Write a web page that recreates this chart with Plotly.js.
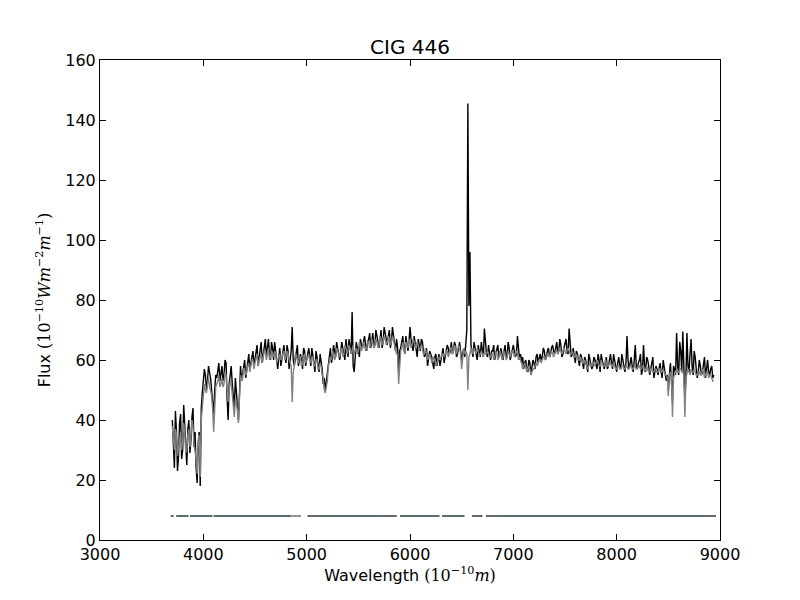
<!DOCTYPE html>
<html>
<head>
<meta charset="utf-8">
<script src="https://cdn.plot.ly/plotly-3.0.1.min.js"></script>
<style>html,body{margin:0;padding:0;background:#fff;}#chart{width:800px;height:600px;}</style>
</head>
<body>
<div id="chart"></div>
<script>
// Wavelength grid (Angstrom), 20 A steps
const wavelength = [
3700,3720,3740,3760,3780,3800,3820,3840,3860,3880,3900,3920,3940,3960,3980,
4000,4020,4040,4060,4080,4100,4120,4140,4160,4180,4200,4220,4240,4260,4280,4300,4320,4340,4360,4380,
4400,4420,4440,4460,4480,4500,4520,4540,4560,4580,4600,4620,4640,4660,4680,4700,4720,4740,4760,4780,
4800,4820,4840,4860,4880,4900,4920,4940,4960,4980,5000,5020,5040,5060,5080,5100,5120,5140,5160,5180,
5200,5220,5240,5260,5280,5300,5320,5340,5360,5380,5400,5420,5440,5460,5480,5500,5520,5540,5560,5580,
5600,5620,5640,5660,5680,5700,5720,5740,5760,5780,5800,5820,5840,5860,5880,5900,5920,5940,5960,5980,
6000,6020,6040,6060,6080,6100,6120,6140,6160,6180,6200,6220,6240,6260,6280,6300,6320,6340,6360,6380,
6400,6420,6440,6460,6480,6500,6520,6540,6560,6580,6600,6620,6640,6660,6680,6700,6720,6740,6760,6780,
6800,6820,6840,6860,6880,6900,6920,6940,6960,6980,7000,7020,7040,7060,7080,7100,7120,7140,7160,7180,
7200,7220,7240,7260,7280,7300,7320,7340,7360,7380,7400,7420,7440,7460,7480,7500,7520,7540,7560,7580,
7600,7620,7640,7660,7680,7700,7720,7740,7760,7780,7800,7820,7840,7860,7880,7900,7920,7940,7960,7980,
8000,8020,8040,8060,8080,8100,8120,8140,8160,8180,8200,8220,8240,8260,8280,8300,8320,8340,8360,8380,
8400,8420,8440,8460,8480,8500,8520,8540,8560,8580,8600,8620,8640,8660,8680,8700,8720,8740,8760,8780,
8800,8820,8840,8860,8880,8900,8920,8940
];

// Observed flux (black) on the grid above
const observedFlux = [
40,24,36,28,42,30,38,25,40,33,44,36,19,36,44,
52,55,53,56,50,42,55,57,53,58,55,59,40,56,52,44,50,40,58,56,
60,57,62,59,63,60,65,61,66,62,67,64,62,66,60,63,57,64,61,65,
59,63,60,71,58,63,58,62,57,63,60,64,58,62,56,61,56,60,52,50,
55,62,59,65,61,64,60,66,62,67,61,65,76,56,66,63,67,64,68,63,
67,64,69,65,68,64,70,66,69,65,70,66,68,63,64,63,66,64,68,63,
71,65,68,64,67,63,66,61,64,60,62,59,61,58,62,60,64,61,65,62,
66,63,65,62,66,60,64,68,145.5,96,63,66,62,65,61,64,70.5,62,65,60,
63,60,64,61,64,60,65,61,64,62,65,61,68,60,59,57,60,56,59,57,
59,61,59,62,61,63,61,64,62,65,62,66,63,65,62,66,63,70.5,61,64,
59,62,58,61,57,60,56,60,57,61,58,62,56,60,57,61,58,62,57,60,
56,61,57,60,56,68,57,61,56,65,57,60,55,65,56,60,55,59,54,58,
55,59,54,58,53,50,59,46,57,69,55,63,69.5,46,69,56,67,55,61,54,
60,55,59,54,60,55,58,55
];
// Observed flux (black) at the in-between wavelengths (grid + 10 A)
const observedFluxMid = [
31,43,23,39,27,45,31,37,29,41,31,24,32,18,49,
57,50,58,54,47,50,54,59,55,53,60,47,52,58,49,54,46,49,53,59,
54,60,57,62,58,62,58,63,59,65,61,67,60,64,66,60,61,58,63,61,
65,57,63,60,61,65,61,60,64,58,63,61,64,59,63,59,62,57,54,53,
59,64,61,62,66,62,63,64,60,64,67,62,58,62,64,61,65,66,65,66,
69,66,64,70,66,67,64,71,67,68,64,71,65,67,56,64,68,62,66,66,
67,63,66,61,65,67,63,62,58,63,61,57,62,60,58,62,59,63,64,63,
62,66,61,64,63,62,61,70,78,65,61,63,60,63,66,61,64,61,62,63,
65,62,65,62,62,63,61,66,60,63,63,62,64,62,61,59,57,60,55,60,
57,62,61,60,64,60,63,61,64,63,64,62,67,61,64,67,62,64,62,61,
63,60,62,59,61,58,62,59,58,60,57,60,62,58,59,57,60,59,62,58,
59,58,62,58,59,60,59,58,60,58,59,62,57,58,61,58,57,61,57,57,
57,56,60,56,55,55,53,58,55,58,66,56,58,54,58,62,58,63,57,56,
58,56,61,57,56,57,54
];

// Synthetic (model) flux (gray) on the grid
const modelFlux = [
38,30,35,31,36,33,36,30,37,34,38,30,22,35,40,
47,50,52,51,48,36,51,53,51,54,52,55,46,53,49,41,46,39,55,54,
57,56,59,58,60,59,62,60,62,61,63,62,60,63,61,62,60,62,61,63,
61,62,59,46,58,61,59,61,59,62,60,62,59,61,58,60,57,58,54,49,
53,60,60,62,61,63,61,64,62,64,63,64,63,62,64,63,65,64,65,64,
66,65,66,65,66,65,67,66,67,66,67,66,67,64,62,60,64,64,66,64,
66,65,66,65,65,64,64,62,62,61,61,60,60,59,61,61,62,62,63,62,
64,63,64,63,64,57,64,63,50,62,63,64,62,63,62,62,63,62,62,61,
62,61,62,61,62,61,62,61,62,62,63,62,62,61,59,58,58,57,57,56,
57,59,59,60,60,61,61,62,62,62,62,63,63,63,63,63,63,63,62,62,
61,61,60,60,59,59,57,59,58,59,59,59,58,59,58,59,58,59,58,58,
57,58,57,58,57,58,57,58,57,58,57,58,57,58,57,57,56,57,56,57,
56,57,56,56,55,48,56,41,55,57,56,57,56,41,56,56,57,56,56,55,
56,55,56,55,56,55,54,53
];
// Synthetic (model) flux (gray) at the in-between wavelengths
const modelFluxMid = [
33,37,28,35,30,39,29,35,31,40,32,27,33,21,44,
52,49,54,50,44,45,52,55,52,51,56,50,50,52,44,47,43,48,53,57,
55,58,56,60,57,61,58,61,59,63,60,64,61,62,63,59,61,60,62,60,
63,60,58,56,62,60,61,58,61,59,61,60,61,58,60,57,59,55,50,51,
58,61,63,60,64,62,63,61,65,62,65,62,65,63,62,66,63,66,63,66,
64,67,64,67,64,68,65,68,65,68,65,68,65,62,52,63,66,62,65,67,
64,67,64,66,63,65,62,64,60,62,59,61,58,60,60,62,61,63,61,64,
62,65,62,65,62,61,62,62,61,64,62,63,64,61,63,61,62,63,61,62,
60,63,60,63,60,63,60,63,61,63,61,63,60,60,57,59,56,58,55,57,
58,58,60,59,61,60,62,61,63,61,63,62,64,62,64,62,64,62,63,61,
62,60,61,59,60,58,58,58,59,58,60,58,60,58,60,58,59,58,59,57,
58,57,58,57,58,57,58,57,58,57,58,57,58,56,58,56,57,56,57,56,
57,56,57,55,54,55,55,54,56,56,57,56,55,54,57,55,56,57,55,56,
55,57,54,56,54,55,53
];
const midOffset = 10; // in-between samples lie 10 A after each grid wavelength

// Mask segments (wavelength start / end) drawn at a constant flux level
const maskStart = [3684,3737,3871,4099,5008,5903,6310,6600,6735];
const maskEnd   = [3712,3857,4089,4848,5872,6286,6528,6702,8961];
const maskLevel = 8;
const mask2Start = [4851];
const mask2End = [4945];

// Merge the grid samples and the in-between samples in wavelength order
function merge(main, mid){
  const x=[], y=[];
  for(let i=0;i<wavelength.length;i++){
    x.push(wavelength[i]); y.push(main[i]);
    if(i < mid.length){ x.push(wavelength[i]+midOffset); y.push(mid[i]); }
  }
  return {x, y};
}
const obs = merge(observedFlux, observedFluxMid);
const mod = merge(modelFlux, modelFluxMid);

function segs(starts, ends, level){
  const x=[], y=[];
  for(let i=0;i<starts.length;i++){ x.push(starts[i], ends[i], null); y.push(level, level, null); }
  return {x, y};
}
const m1 = segs(maskStart, maskEnd, maskLevel);
const m2 = segs(mask2Start, mask2End, maskLevel);

const traces = [
  {x: obs.x, y: obs.y, type:'scatter', mode:'lines', line:{color:'#000000', width:1.4}, hoverinfo:'skip'},
  {x: mod.x, y: mod.y, type:'scatter', mode:'lines', line:{color:'#808080', width:1.4}, hoverinfo:'skip'},
  {x: m1.x, y: m1.y, type:'scatter', mode:'lines', line:{color:'#5f6b70', width:2}, connectgaps:false, hoverinfo:'skip'},
  {x: m2.x, y: m2.y, type:'scatter', mode:'lines', line:{color:'#88939a', width:2}, connectgaps:false, hoverinfo:'skip'}
];

const axisCommon = {
  showline:true, linecolor:'#000', linewidth:1, mirror:'ticks',
  ticks:'inside', ticklen:6, tickwidth:1, tickcolor:'#000',
  showgrid:false, zeroline:false,
  tickfont:{family:'DejaVu Sans', size:16, color:'#000'}
};

const layout = {
  width:800, height:600,
  margin:{l:100, r:80, t:60, b:60, pad:0},
  paper_bgcolor:'#fff', plot_bgcolor:'#fff',
  showlegend:false,
  font:{family:'DejaVu Sans', color:'#000'},
  title:{text:'CIG 446', font:{family:'DejaVu Sans', size:20, color:'#000'}, x:0.5, xanchor:'center', xref:'paper', y:1, yref:'paper', yanchor:'bottom', pad:{b:6}},
  xaxis: Object.assign({}, axisCommon, {
    range:[3000,9000], dtick:1000, tick0:3000,
    title:{text:"Wavelength <span style='font-family:DejaVu Serif'>(10<sup>−10</sup><i>m</i>)</span>", font:{family:'DejaVu Sans', size:16, color:'#000'}, standoff:6}
  }),
  yaxis: Object.assign({}, axisCommon, {
    range:[0,160], dtick:20, tick0:0,
    title:{text:"Flux <span style='font-family:DejaVu Serif'>(10<sup>−10</sup><i>Wm</i><sup>−2</sup><i>m</i><sup>−1</sup>)</span>", font:{family:'DejaVu Sans', size:16, color:'#000'}, standoff:10}
  })
};

Plotly.newPlot('chart', traces, layout, {staticPlot:true, displayModeBar:false});
</script>
</body>
</html>
